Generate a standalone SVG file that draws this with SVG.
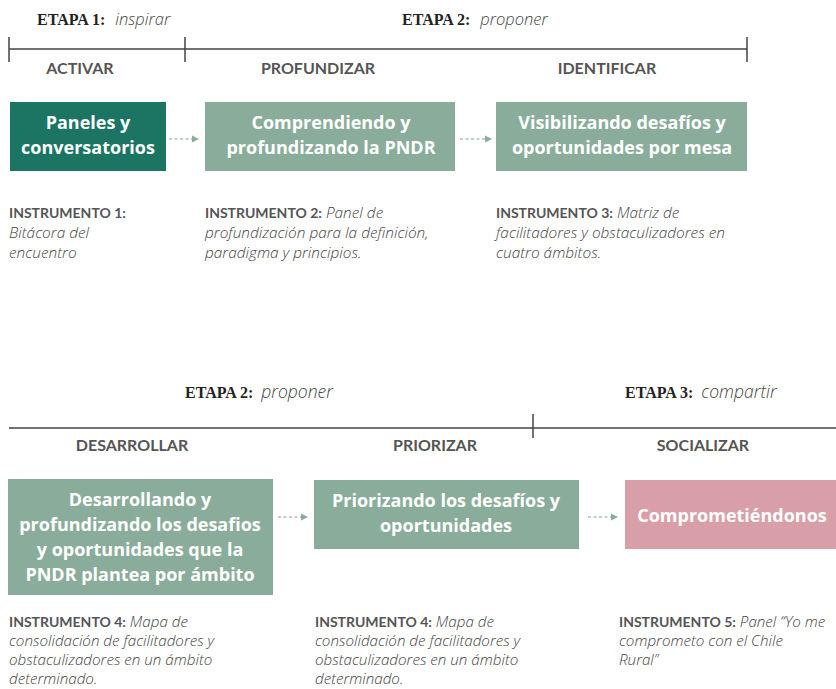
<svg xmlns="http://www.w3.org/2000/svg" width="836" height="689" viewBox="0 0 836 689">
<defs>
<style>
.etapa{font-family:"Liberation Serif",serif;font-weight:bold;font-size:16px;fill:#222}
.etapa tspan.i{font-family:"Open Sans","Liberation Sans",sans-serif;font-weight:300;font-style:italic;fill:#444;font-size:16.5px}
.etapa tspan.j{font-family:"Open Sans","Liberation Sans",sans-serif;font-weight:300;font-style:italic;fill:#444;font-size:17.5px}
.sec{font-family:Lato,"Liberation Sans",sans-serif;font-weight:bold;font-size:16px;fill:#555;text-anchor:middle}
.bt{font-family:"Open Sans","Liberation Sans",sans-serif;font-weight:bold;font-size:18px;fill:#fff;text-anchor:middle}
.ins{font-family:"Open Sans","Liberation Sans",sans-serif;font-size:15.4px;fill:#444;font-style:italic;font-weight:300}
.ins2{font-size:15.2px}
.ins tspan.b{font-family:Lato,"Liberation Sans",sans-serif;font-weight:bold;font-style:normal;font-size:14px;fill:#555}
.rule{stroke:#444;stroke-width:1.5;fill:none}
.dark{fill:#1b7562}
.light{fill:#8aad9b}
.pink{fill:#d89fa8}
.arr{stroke:#a9c2b4;stroke-width:1.5;stroke-dasharray:3,2.5;fill:none}
.head{fill:#8aad9b}
</style>
</defs>

<g id="headers">
<text class="etapa" x="37" y="25">ETAPA 1: <tspan class="i" dx="6">inspirar</tspan></text>
<text class="etapa" x="402" y="25">ETAPA 2: <tspan class="i" dx="6">proponer</tspan></text>
<path class="rule" d="M9,49 H747 M9,37 V62 M185,37 V62 M747,37 V62"/>
<text class="sec" x="80" y="74">ACTIVAR</text>
<text class="sec" x="318" y="74">PROFUNDIZAR</text>
<text class="sec" x="607" y="74">IDENTIFICAR</text>

<text class="etapa" x="185" y="398">ETAPA 2: <tspan class="j" dx="4">proponer</tspan></text>
<text class="etapa" x="625" y="398">ETAPA 3: <tspan class="j" dx="4">compartir</tspan></text>
<path class="rule" d="M9,428 H836 M533,414 V438"/>
<text class="sec" x="132" y="451">DESARROLLAR</text>
<text class="sec" x="435" y="451">PRIORIZAR</text>
<text class="sec" x="703" y="451">SOCIALIZAR</text>
</g>

<g id="node1">
<rect class="dark" x="10" y="102" width="156" height="69"/>
<text class="bt" x="88" y="128.5">Paneles y</text>
<text class="bt" x="88" y="153.5">conversatorios</text>
</g>
<g id="node2">
<rect class="light" x="205" y="102" width="250" height="69"/>
<text class="bt" x="331" y="128.5">Comprendiendo y</text>
<text class="bt" x="331" y="153.5">profundizando la PNDR</text>
</g>
<g id="node3">
<rect class="light" x="496" y="102" width="251" height="69"/>
<text class="bt" x="622" y="128.5">Visibilizando desafíos y</text>
<text class="bt" x="622" y="153.5">oportunidades por mesa</text>
</g>
<g id="node4">
<rect class="light" x="8" y="479" width="265" height="116"/>
<text class="bt" x="140" y="506">Desarrollando y</text>
<text class="bt" x="140" y="531">profundizando los desafios</text>
<text class="bt" x="140" y="556">y oportunidades que la</text>
<text class="bt" x="140" y="581">PNDR plantea por ámbito</text>
</g>
<g id="node5">
<rect class="light" x="314" y="480" width="265" height="69"/>
<text class="bt" x="446" y="507">Priorizando los desafíos y</text>
<text class="bt" x="446" y="532">oportunidades</text>
</g>
<g id="node6">
<rect class="pink" x="625" y="480" width="211" height="69"/>
<text class="bt" x="732" y="522">Comprometiéndonos</text>
</g>

<g id="connectors">
<path class="arr" d="M169,139 H192"/><path class="head" d="M192,135.5 L199,139 L192,142.5 Z"/>
<path class="arr" d="M460,139 H485"/><path class="head" d="M485,135.5 L492,139 L485,142.5 Z"/>
<path class="arr" d="M278,517 H301"/><path class="head" d="M301,513.5 L308,517 L301,520.5 Z"/>
<path class="arr" d="M588,517 H611"/><path class="head" d="M611,513.5 L618,517 L611,520.5 Z"/>
</g>

<g id="instruments">
<text class="ins" x="9" y="218"><tspan class="b">INSTRUMENTO 1:</tspan></text>
<text class="ins" x="9" y="238">Bitácora del</text>
<text class="ins" x="9" y="258">encuentro</text>

<text class="ins" x="205" y="218"><tspan class="b">INSTRUMENTO 2:</tspan> Panel de</text>
<text class="ins" x="205" y="238">profundización para la definición,</text>
<text class="ins" x="205" y="258">paradigma y principios.</text>

<text class="ins" x="496" y="218"><tspan class="b">INSTRUMENTO 3:</tspan> Matriz de</text>
<text class="ins" x="496" y="238">facilitadores y obstaculizadores en</text>
<text class="ins" x="496" y="258">cuatro ámbitos.</text>

<text class="ins ins2" x="9" y="627"><tspan class="b">INSTRUMENTO 4:</tspan> Mapa de</text>
<text class="ins ins2" x="9" y="646">consolidación de facilitadores y</text>
<text class="ins ins2" x="9" y="665">obstaculizadores en un ámbito</text>
<text class="ins ins2" x="9" y="684">determinado.</text>

<text class="ins ins2" x="315" y="627"><tspan class="b">INSTRUMENTO 4:</tspan> Mapa de</text>
<text class="ins ins2" x="315" y="646">consolidación de facilitadores y</text>
<text class="ins ins2" x="315" y="665">obstaculizadores en un ámbito</text>
<text class="ins ins2" x="315" y="684">determinado.</text>

<text class="ins ins2" x="619" y="627"><tspan class="b">INSTRUMENTO 5:</tspan> Panel “Yo me</text>
<text class="ins ins2" x="619" y="646">comprometo con el Chile</text>
<text class="ins ins2" x="619" y="665">Rural”</text>
</g>
</svg>
